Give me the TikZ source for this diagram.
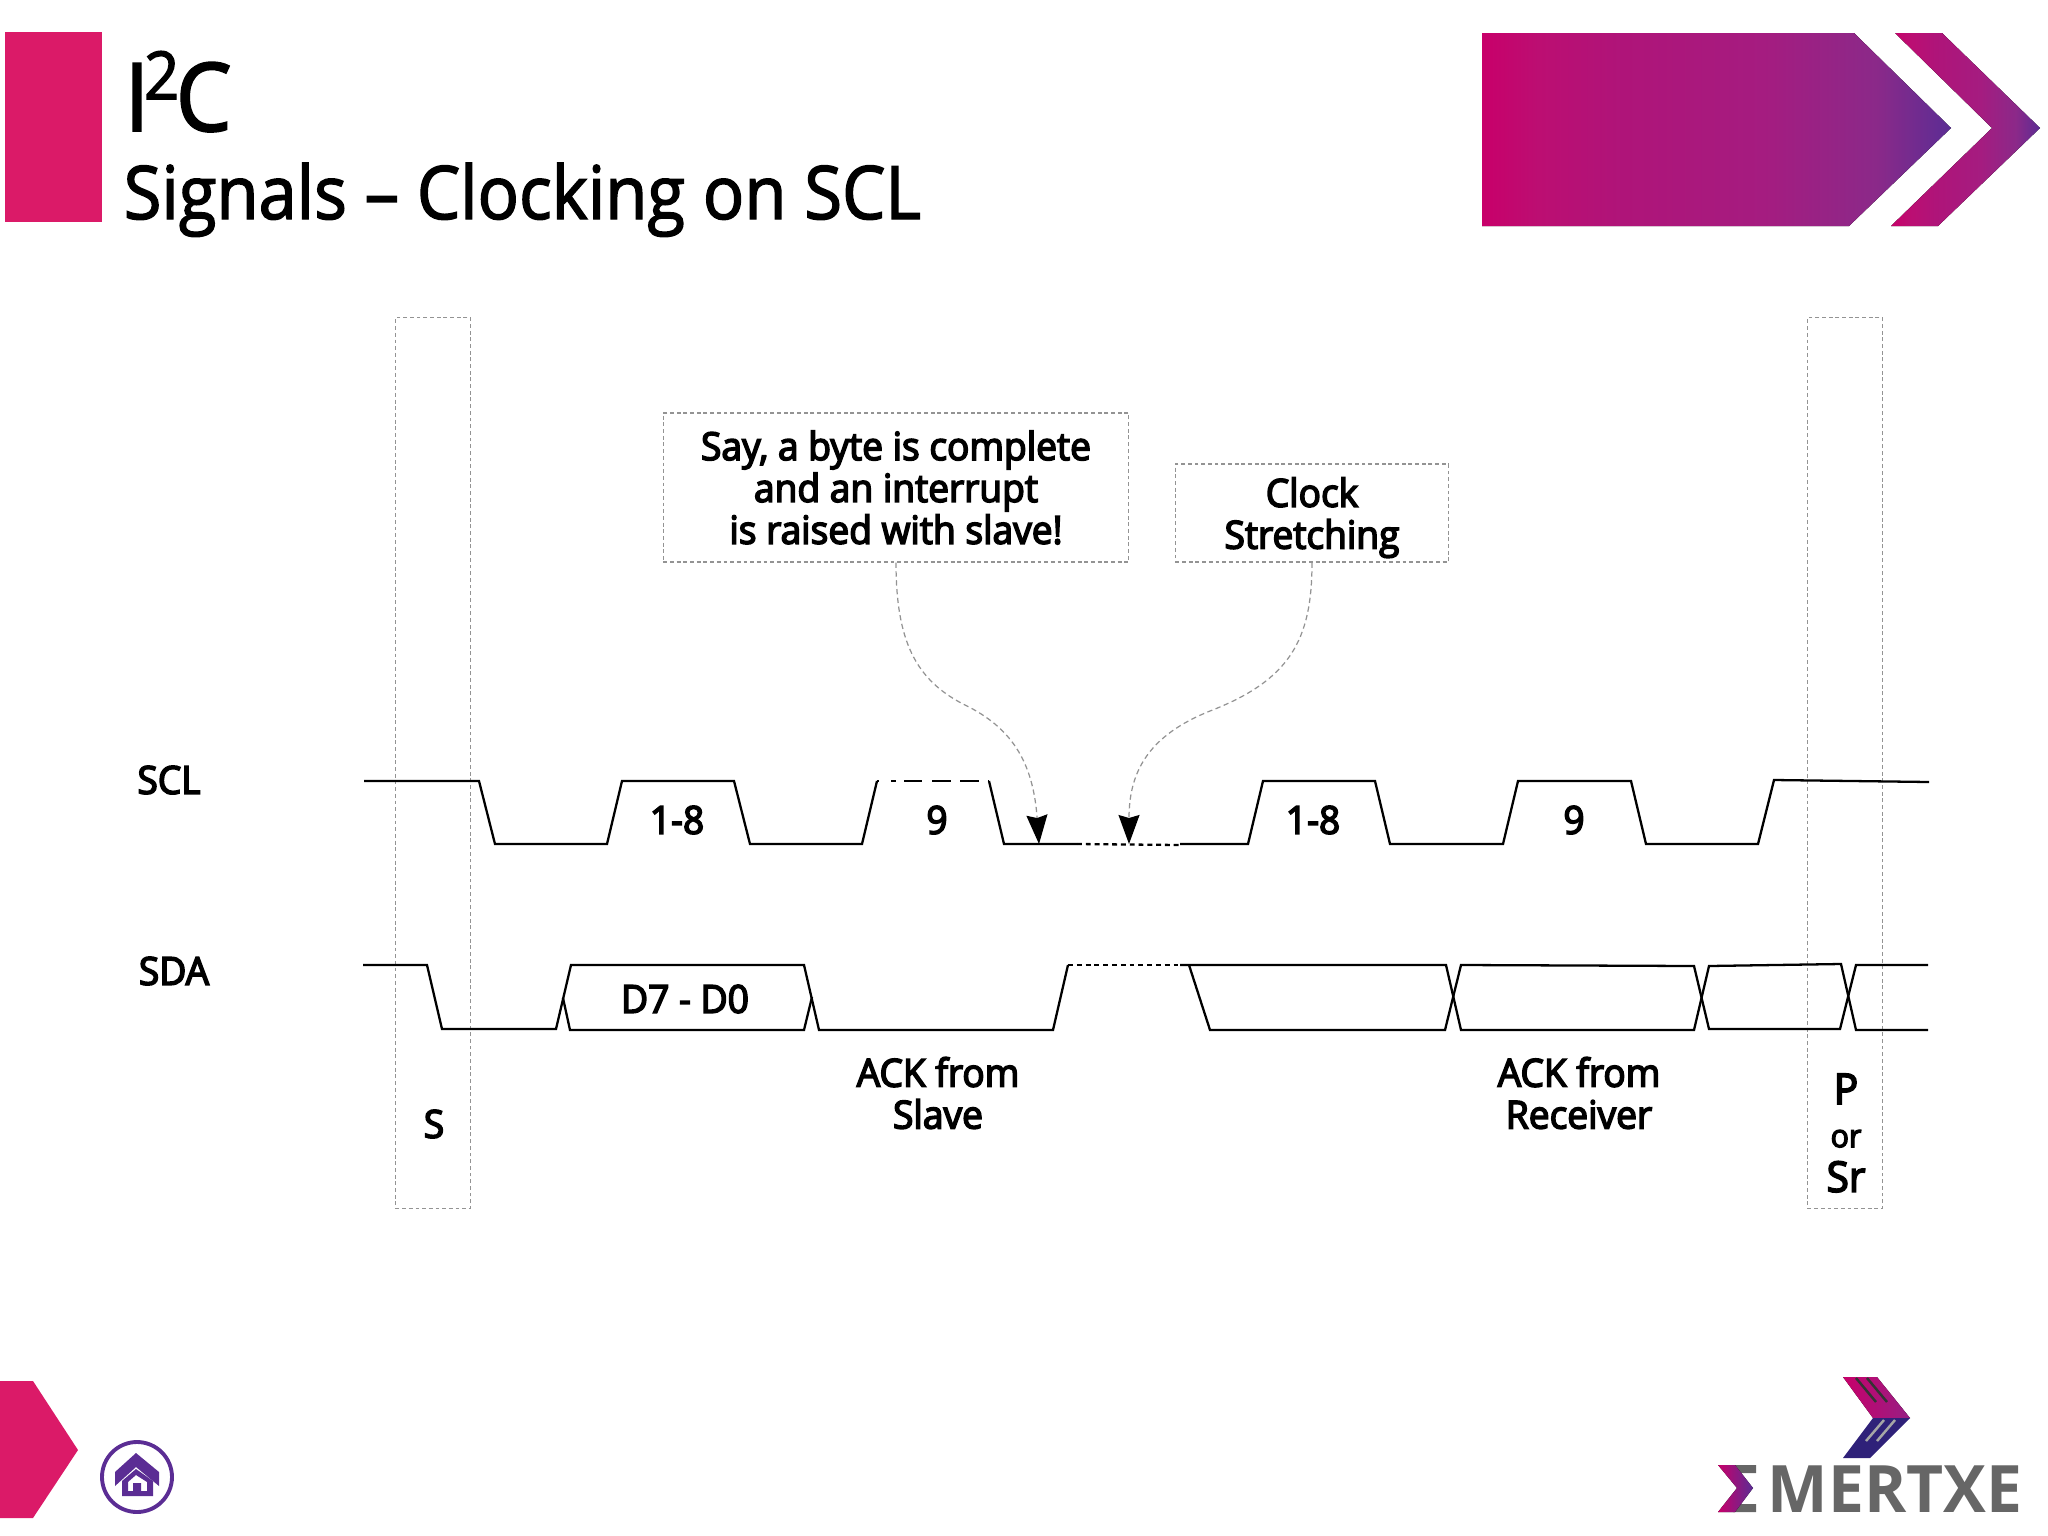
\documentclass[tikz,border=0pt]{standalone}
\usepackage{fontspec}
\setmainfont[FakeStretch=0.93, FakeBold=2]{Open Sans}
\newfontfamily\sigfont[FakeStretch=0.96, FakeBold=4]{Open Sans}
\newfontfamily\logofont[FakeStretch=0.98]{Open Sans}
\usepackage{tikz}
\usetikzlibrary{arrows.meta}

\definecolor{emPink}{HTML}{DB1A68}
\definecolor{emRed}{HTML}{C8006A}
\definecolor{emRedMid}{HTML}{BC0E72}
\definecolor{emMidRed}{HTML}{AF1479}
\definecolor{emMid}{HTML}{A51C80}
\definecolor{emMidPurple}{HTML}{8B2989}
\definecolor{emPurple}{HTML}{5B2D94}
\definecolor{emNavy}{HTML}{2F2179}
\definecolor{emGray}{HTML}{666666}
\pgfdeclarehorizontalshading{emBand}{100bp}{
    color(0bp)=(emRed); color(25bp)=(emRed); color(31bp)=(emRedMid); color(40bp)=(emMidRed);
    color(55bp)=(emMid); color(67bp)=(emMidPurple); color(75bp)=(emPurple); color(100bp)=(emPurple)}

\tikzset{
    guidebox/.style={rectangle, draw=gray!85, line width=0.35pt, dash pattern=on 1.1pt off 0.8pt, inner sep=0pt},
    wave/.style={line width=0.65pt, black},
    wavedot/.style={wave, dash pattern=on 1.4pt off 1.1pt},
    wavedash/.style={wave, dash pattern=on 0.6pt off 3.4pt on 1.4pt off 2.3pt on 5.2pt off 2.8pt on 5.2pt off 2.8pt on 5.2pt off 2.8pt on 1pt off 0pt},
    callout/.style={draw=gray!85, line width=0.35pt, dash pattern=on 1.5pt off 1pt,
        -{Stealth[length=0.29cm, width=0.21cm, inset=0.03cm, black, fill=black]}},
    sigtext/.style={font=\sigfont\fontsize{11}{11.9}\selectfont, align=center, inner sep=0pt},
}

\begin{document}
\begin{tikzpicture}[x=0.01cm, y=-0.01cm]
    \useasboundingbox (0,0) rectangle (2048,1536);

    % Header
    \fill[emPink] (5,32) rectangle (102,222);
    \node[anchor=base west, inner sep=0pt, font=\fontsize{27}{27}\selectfont](title) at (124,131) {I\kern-1.5pt\textsuperscript{2}\kern-1.5pt C};
    \node[anchor=base west, inner sep=0pt, font=\fontsize{21}{21}\selectfont](subtitle) at (123,219) {Signals – Clocking on SCL};
    \fill[shading=emBand]
        (1482,33) -- (1854,33) -- (1951,128) -- (1849,226) -- (1482,226) -- cycle;
    \fill[shading=emBand]
        (1895,33) -- (1942,33) -- (2040,128) -- (1938,226) -- (1891,226) -- (1992,128) -- cycle;

    % Guide boxes
    \node[guidebox, minimum width=0.75cm, minimum height=8.9cm](startbox) at (433,763) {};
    \node[guidebox, minimum width=0.75cm, minimum height=8.9cm](stopbox) at (1845,763) {};
    \node[guidebox, minimum width=4.65cm, minimum height=1.49cm, sigtext](bytenote) at (896,487.5) {Say, a byte is complete\\and an interrupt\\is raised with slave!};
    \node[guidebox, minimum width=2.73cm, minimum height=0.98cm, sigtext](clocknote) at (1312,513) {\rule{0pt}{11pt}Clock\\Stretching};

    % Signal names
    \node[sigtext](scl) at (169,780) {SCL};
    \node[sigtext](sda) at (174,971) {SDA};

    % SCL
    \draw[wave] (364,781) -- (479,781) -- (495,844) -- (607,844) -- (622,781) -- (734,781) -- (750,844)
        -- (862,844) -- (877,781);
    \draw[wavedash] (877,781) -- (989,781);
    \draw[wave] (989,781) -- (1004,844) -- (1077,844);
    \draw[wavedot] (1077,844) -- (1180,845);
    \draw[wave] (1180,844) -- (1248,844) -- (1263,781) -- (1375,781) -- (1390,844) -- (1503,844)
        -- (1518,781) -- (1631,781) -- (1646,844) -- (1758,844) -- (1774,780) -- (1929,782);
    \node[sigtext](byteone) at (677,820) {1-8};
    \node[sigtext](ninthone) at (937,820) {9};
    \node[sigtext](bytetwo) at (1313,820) {1-8};
    \node[sigtext](ninthtwo) at (1574,820) {9};

    % SDA
    \draw[wave] (363,965) -- (427,965) -- (442,1029) -- (556,1029) -- (571,965) -- (804,965) -- (819,1030)
        -- (1053,1030) -- (1068,965);
    \draw[wave] (563,998) -- (570,1030) -- (804,1030) -- (812,997);
    \draw[wavedot] (1068,965) -- (1180,965);
    \draw[wave] (1180,965) -- (1446,965) -- (1461,1030) -- (1694,1030) -- (1709,966) -- (1841,964)
        -- (1856,1030) -- (1928,1030);
    \draw[wave] (1189,965) -- (1210,1030) -- (1445,1030) -- (1461,965) -- (1694,966) -- (1709,1029)
        -- (1840,1029) -- (1856,965) -- (1928,965);
    \node[sigtext](databits) at (685,999) {D7 - D0};

    % Texts under the signals
    \node[sigtext](ackslave) at (938,1093) {ACK from\\Slave};
    \node[sigtext](ackrecv) at (1579,1093) {ACK from\\Receiver};
    \node[sigtext](startmark) at (434,1124) {S};
    \node[sigtext](stopmark) at (1846,1133) {\fontsize{12}{12}\selectfont P\\[0.4pt]{\fontsize{9}{9}\selectfont or}\\[0.8pt]\fontsize{12}{12}\selectfont Sr};

    % Arrows with text
    \coordinate (bytetip) at (1039,844);
    \coordinate (clocktip) at (1129,844);
    \draw[callout] (bytenote.south) .. controls (896,640) and (915,680) .. (965,705)
        .. controls (1010,727) and (1033,760) .. (bytetip);
    \draw[callout] (clocknote.south) .. controls (1312,640) and (1290,680) .. (1210,711)
        .. controls (1150,735) and (1129,770) .. (clocktip);

    % Footer
    \fill[emPink] (0,1381) -- (33,1381) -- (78,1450) -- (33,1518) -- (0,1518) -- cycle;
    \draw[emPurple, line width=1.1pt] (137,1477) circle (35);
    \fill[emPurple] (136,1453) -- (159,1472) -- (159,1486) -- (136,1467) -- (115,1486) -- (115,1472) -- cycle;
    \fill[emPurple, even odd rule] (122,1481) -- (136,1469) -- (153,1481) -- (153,1496) -- (122,1496) -- cycle
        (128,1482) -- (136,1475) -- (147,1482) -- (147,1491) -- (141,1491) -- (141,1483) -- (133,1483) -- (133,1491) -- (128,1491) -- cycle;

    % Logo
    \fill[left color=emRed, right color=emMid!80!emPurple] (1843,1377) -- (1877,1377) -- (1910,1418) -- (1873,1418) -- cycle;
    \fill[emNavy] (1873,1418) -- (1910,1418) -- (1870,1458) -- (1843,1458) -- cycle;
    \draw[black!80, line width=0.7pt] (1856,1378) -- (1876,1402) (1867,1378) -- (1887,1402);
    \draw[gray!70, line width=0.7pt] (1866,1441) -- (1884,1420) (1877,1441) -- (1895,1420);
    \fill[emGray] (1733,1465) -- (1756,1465) -- (1756,1473) -- (1740,1473) -- cycle;
    \fill[emGray] (1733,1512) -- (1756,1512) -- (1756,1504) -- (1740,1504) -- cycle;
    \fill[left color=emRed, right color=emPurple] (1718,1465) -- (1735,1465) -- (1753,1488) -- (1735,1512) -- (1718,1512) -- (1737,1488) -- cycle;
    \node[anchor=base west, inner sep=0pt, text=emGray, font=\logofont\fontsize{18.6}{18.6}\selectfont\bfseries](logo) at (1767,1512) {MERTXE};
\end{tikzpicture}
\end{document}
